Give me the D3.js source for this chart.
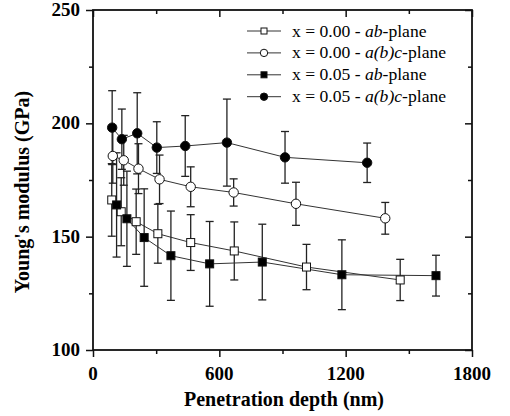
<!DOCTYPE html>
<html>
<head>
<meta charset="utf-8">
<script src="https://cdn.jsdelivr.net/npm/d3@7"></script>
<style>
  body { margin: 0; background: #fff; }
</style>
</head>
<body>
<div id="chart"></div>
<script>
'use strict'

// depth (nm), modulus (GPa), error (GPa)
var depthA = [89, 134, 205, 308, 464, 671, 1014, 1459];
var modA   = [166.2, 161.0, 156.6, 151.3, 147.4, 143.7, 136.6, 130.9];
var errA   = [16, 15, 14.4, 13, 12.3, 12.8, 10, 9.1];

var depthB = [94, 146, 216, 316, 464, 668, 964, 1388];
var modB   = [185.6, 183.7, 180.0, 175.3, 172.0, 169.5, 164.5, 158.1];
var errB   = [12, 11, 11, 10.7, 8.8, 6, 9.5, 7];

var depthC = [112, 161, 243, 370, 554, 804, 1182, 1629];
var modC   = [164.0, 157.9, 149.6, 141.6, 138.0, 138.8, 133.2, 132.8];
var errC   = [23, 21, 21.5, 19.7, 18.7, 16.7, 15.4, 9];

var depthD = [91, 137, 210, 303, 438, 636, 912, 1302];
var modD   = [198.1, 193.0, 195.6, 189.3, 190.0, 191.5, 185.0, 182.6];
var errD   = [16.3, 13.3, 17.9, 11.4, 13.4, 19.2, 11.4, 8.7];

var seriesNames = ["x = 0.00 - |ab|-plane", "x = 0.00 - |a(b)c|-plane", "x = 0.05 - |ab|-plane", "x = 0.05 - |a(b)c|-plane"];
var xTicks = [0, 600, 1200, 1800];
var yTicks = [100, 150, 200, 250];
var xMinor = [300, 900, 1500];
var yMinor = [125, 175, 225];

var series = [
    {depth: depthA, mod: modA, err: errA, shape: "square", fill: "#fff"},
    {depth: depthB, mod: modB, err: errB, shape: "circle", fill: "#fff"},
    {depth: depthC, mod: modC, err: errC, shape: "square", fill: "#000"},
    {depth: depthD, mod: modD, err: errD, shape: "circle", fill: "#000"}
];

var W = 510, H = 416;
var pL = 93, pR = 472, pT = 10, pB = 350;
var serif = "'Liberation Serif', 'Times New Roman', Times, serif";

var svg = d3.select("#chart").append("svg").attr("width", W).attr("height", H)
    .attr("font-family", serif);

var x = d3.scaleLinear().domain([0, 1800]).range([pL, pR]);
var y = d3.scaleLinear().domain([100, 250]).range([pB, pT]);

function addAxis(axis, tx, ty) {
    svg.append("g").attr("transform", "translate(" + tx + "," + ty + ")")
        .call(axis)
        .call(function (g) { g.select(".domain").remove(); })
        .call(function (g) { g.selectAll(".tick line").attr("stroke", "#111").attr("stroke-width", 1.5); });
}

// bottom / left ticks point out, top / right mirrored ticks point in
[[xTicks, 7], [xMinor, 4]].forEach(function (t) {
    addAxis(d3.axisBottom(x).tickValues(t[0]).tickSize(t[1]).tickFormat(""), 0, pB);
    addAxis(d3.axisBottom(x).tickValues(t[0]).tickSize(t[1]).tickFormat(""), 0, pT);
});
[[yTicks, 7], [yMinor, 4]].forEach(function (t) {
    addAxis(d3.axisLeft(y).tickValues(t[0]).tickSize(t[1]).tickFormat(""), pL, 0);
    addAxis(d3.axisLeft(y).tickValues(t[0]).tickSize(t[1]).tickFormat(""), pR, 0);
});

svg.append("rect").attr("x", pL).attr("y", pT)
    .attr("width", pR - pL).attr("height", pB - pT)
    .attr("fill", "none").attr("stroke", "#111").attr("stroke-width", 1.8);

// tick labels
svg.selectAll(".xlab").data(xTicks).enter().append("text")
    .attr("x", function (d) { return x(d); }).attr("y", 380)
    .attr("text-anchor", "middle").attr("font-size", 19).attr("font-weight", "bold")
    .text(function (d) { return d; });
svg.selectAll(".ylab").data(yTicks).enter().append("text")
    .attr("x", 80).attr("y", function (d) { return y(d) + 6; })
    .attr("text-anchor", "end").attr("font-size", 19).attr("font-weight", "bold")
    .text(function (d) { return d; });

svg.append("text").attr("x", 284).attr("y", 406)
    .attr("text-anchor", "middle").attr("font-size", 20).attr("font-weight", "bold")
    .text("Penetration depth (nm)");
svg.append("text").attr("transform", "translate(29,192) rotate(-90)")
    .attr("text-anchor", "middle").attr("font-size", 20).attr("font-weight", "bold")
    .text("Young's modulus (GPa)");

var line = d3.line().x(function (d) { return x(d[0]); }).y(function (d) { return y(d[1]); });

function drawMarker(g, shape, fill, cx, cy, s) {
    if (shape === "square") {
        g.append("rect").attr("x", cx - s).attr("y", cy - s).attr("width", 2 * s).attr("height", 2 * s)
            .attr("fill", fill).attr("stroke", "#111").attr("stroke-width", 1);
    } else {
        g.append("circle").attr("cx", cx).attr("cy", cy).attr("r", s + 0.7)
            .attr("fill", fill).attr("stroke", "#111").attr("stroke-width", 1);
    }
}

// lines and error bars first
series.forEach(function (s) {
    var pts = s.depth.map(function (d, i) { return [d, s.mod[i]]; });
    svg.append("path").attr("d", line(pts)).attr("fill", "none")
        .attr("stroke", "#333").attr("stroke-width", 1);
    var eb = svg.append("g").attr("stroke", "#222").attr("stroke-width", 1.3);
    pts.forEach(function (p, i) {
        var cx = x(p[0]), y1 = y(p[1] + s.err[i]), y2 = y(p[1] - s.err[i]);
        eb.append("line").attr("x1", cx).attr("x2", cx).attr("y1", y1).attr("y2", y2);
        eb.append("line").attr("x1", cx - 4).attr("x2", cx + 4).attr("y1", y1).attr("y2", y1);
        eb.append("line").attr("x1", cx - 4).attr("x2", cx + 4).attr("y1", y2).attr("y2", y2);
    });
});
series.forEach(function (s) {
    var g = svg.append("g");
    s.depth.forEach(function (d, i) {
        drawMarker(g, s.shape, s.fill, x(d), y(s.mod[i]), 4);
    });
});

// legend
var legend = svg.append("g");
seriesNames.forEach(function (name, i) {
    var ly = 31 + i * 21.9;
    var s = series[i];
    legend.append("line").attr("x1", 247).attr("x2", 281).attr("y1", ly).attr("y2", ly)
        .attr("stroke", "#333").attr("stroke-width", 1);
    drawMarker(legend, s.shape, s.fill, 264, ly, 3);
    var parts = name.split("|");
    var t = legend.append("text").attr("x", 292).attr("y", ly + 5.5).attr("font-size", 17.6);
    t.append("tspan").text(parts[0]);
    t.append("tspan").attr("font-style", "italic").text(parts[1]);
    t.append("tspan").text(parts[2]);
});
</script>
</body>
</html>
